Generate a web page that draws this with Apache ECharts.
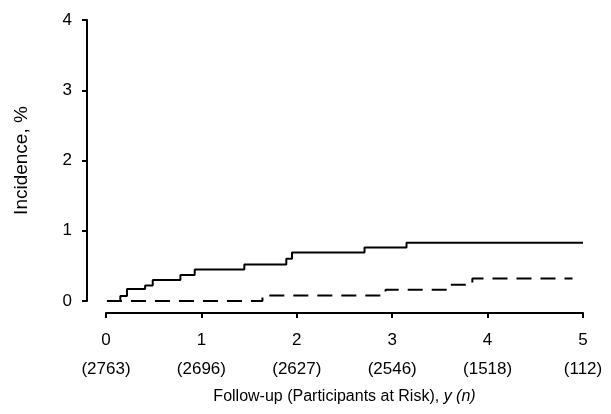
<!DOCTYPE html>
<html>
<head>
<meta charset="utf-8">
<script src="https://cdn.jsdelivr.net/npm/echarts@6/dist/echarts.min.js"></script>
<style>
html,body{margin:0;padding:0;background:#fff;}
#chart{width:611px;height:414px;}
</style>
</head>
<body>
<div id="chart"></div>
<script>
// Data (years of follow-up, cumulative incidence %)
var xTicks = [0, 1, 2, 3, 4, 5];
var atRisk = [2763, 2696, 2627, 2546, 1518, 112];
var yTicks = [0, 1, 2, 3, 4];

var solidTimes  = [0.01, 0.15, 0.22, 0.41, 0.49, 0.78, 0.93, 1.45, 1.89, 1.95, 2.71, 3.15, 5.0];
var solidValues = [0,    0.07, 0.17, 0.22, 0.30, 0.37, 0.45, 0.52, 0.60, 0.69, 0.76, 0.83, 0.83];

var dashTimes  = [0.01, 1.64, 2.93, 3.60, 3.84, 4.89];
var dashValues = [0,    0.08, 0.16, 0.23, 0.32, 0.32];

function pairs(xs, ys) { return xs.map(function (x, i) { return [x, ys[i]]; }); }

var FONT = 'Liberation Sans, Arial, Helvetica, sans-serif';
var chart = echarts.init(document.getElementById('chart'), null, {renderer: 'canvas'});
chart.setOption({
  animation: false,
  backgroundColor: '#fff',
  grid: {left: 106, right: 28, top: 20, bottom: 113, containLabel: false},
  xAxis: {
    type: 'value', min: 0, max: 5, interval: 1, offset: 12, z: 0,
    axisLine: {show: true, onZero: false, lineStyle: {color: '#000', width: 2}},
    axisTick: {show: true, length: 5, inside: false, lineStyle: {color: '#000', width: 2}},
    splitLine: {show: false},
    axisLabel: {
      margin: 13, color: '#000', fontFamily: FONT, fontSize: 17,
      formatter: function (v) {
        var i = xTicks.indexOf(v);
        return '{a|' + v + '}\n{b|(' + atRisk[i] + ')}';
      },
      rich: {
        a: {fontFamily: FONT, fontSize: 17, color: '#000', lineHeight: 29},
        b: {fontFamily: FONT, fontSize: 17, color: '#000', lineHeight: 29}
      }
    },
    name: 'Follow-up (Participants at Risk), {i|y (n)}',
    nameLocation: 'middle', nameGap: 76,
    nameTextStyle: {
      fontFamily: FONT, fontSize: 16, color: '#000',
      rich: {i: {fontFamily: FONT, fontSize: 16, fontStyle: 'italic', color: '#000'}}
    }
  },
  yAxis: {
    type: 'value', min: 0, max: 4, interval: 1, offset: 19, z: 0,
    axisLine: {show: true, onZero: false, lineStyle: {color: '#000', width: 2}},
    axisTick: {show: true, length: 5, inside: false, lineStyle: {color: '#000', width: 2}},
    splitLine: {show: false},
    axisLabel: {margin: 15, color: '#000', fontFamily: FONT, fontSize: 17,
      formatter: function (v) { return yTicks.indexOf(v) >= 0 ? String(v) : ''; }},
    name: 'Incidence, %',
    nameLocation: 'middle', nameGap: 56,
    nameTextStyle: {fontFamily: FONT, fontSize: 19, color: '#000'}
  },
  series: [
    {
      type: 'line', step: 'end', symbol: 'none', clip: false, z: 10,
      data: pairs(solidTimes, solidValues),
      lineStyle: {color: '#000', width: 2, type: 'solid'}
    },
    {
      type: 'line', step: 'end', symbol: 'none', clip: false, z: 10,
      data: pairs(dashTimes, dashValues),
      lineStyle: {color: '#000', width: 2, type: [15, 9]}
    }
  ]
});
</script>
</body>
</html>
